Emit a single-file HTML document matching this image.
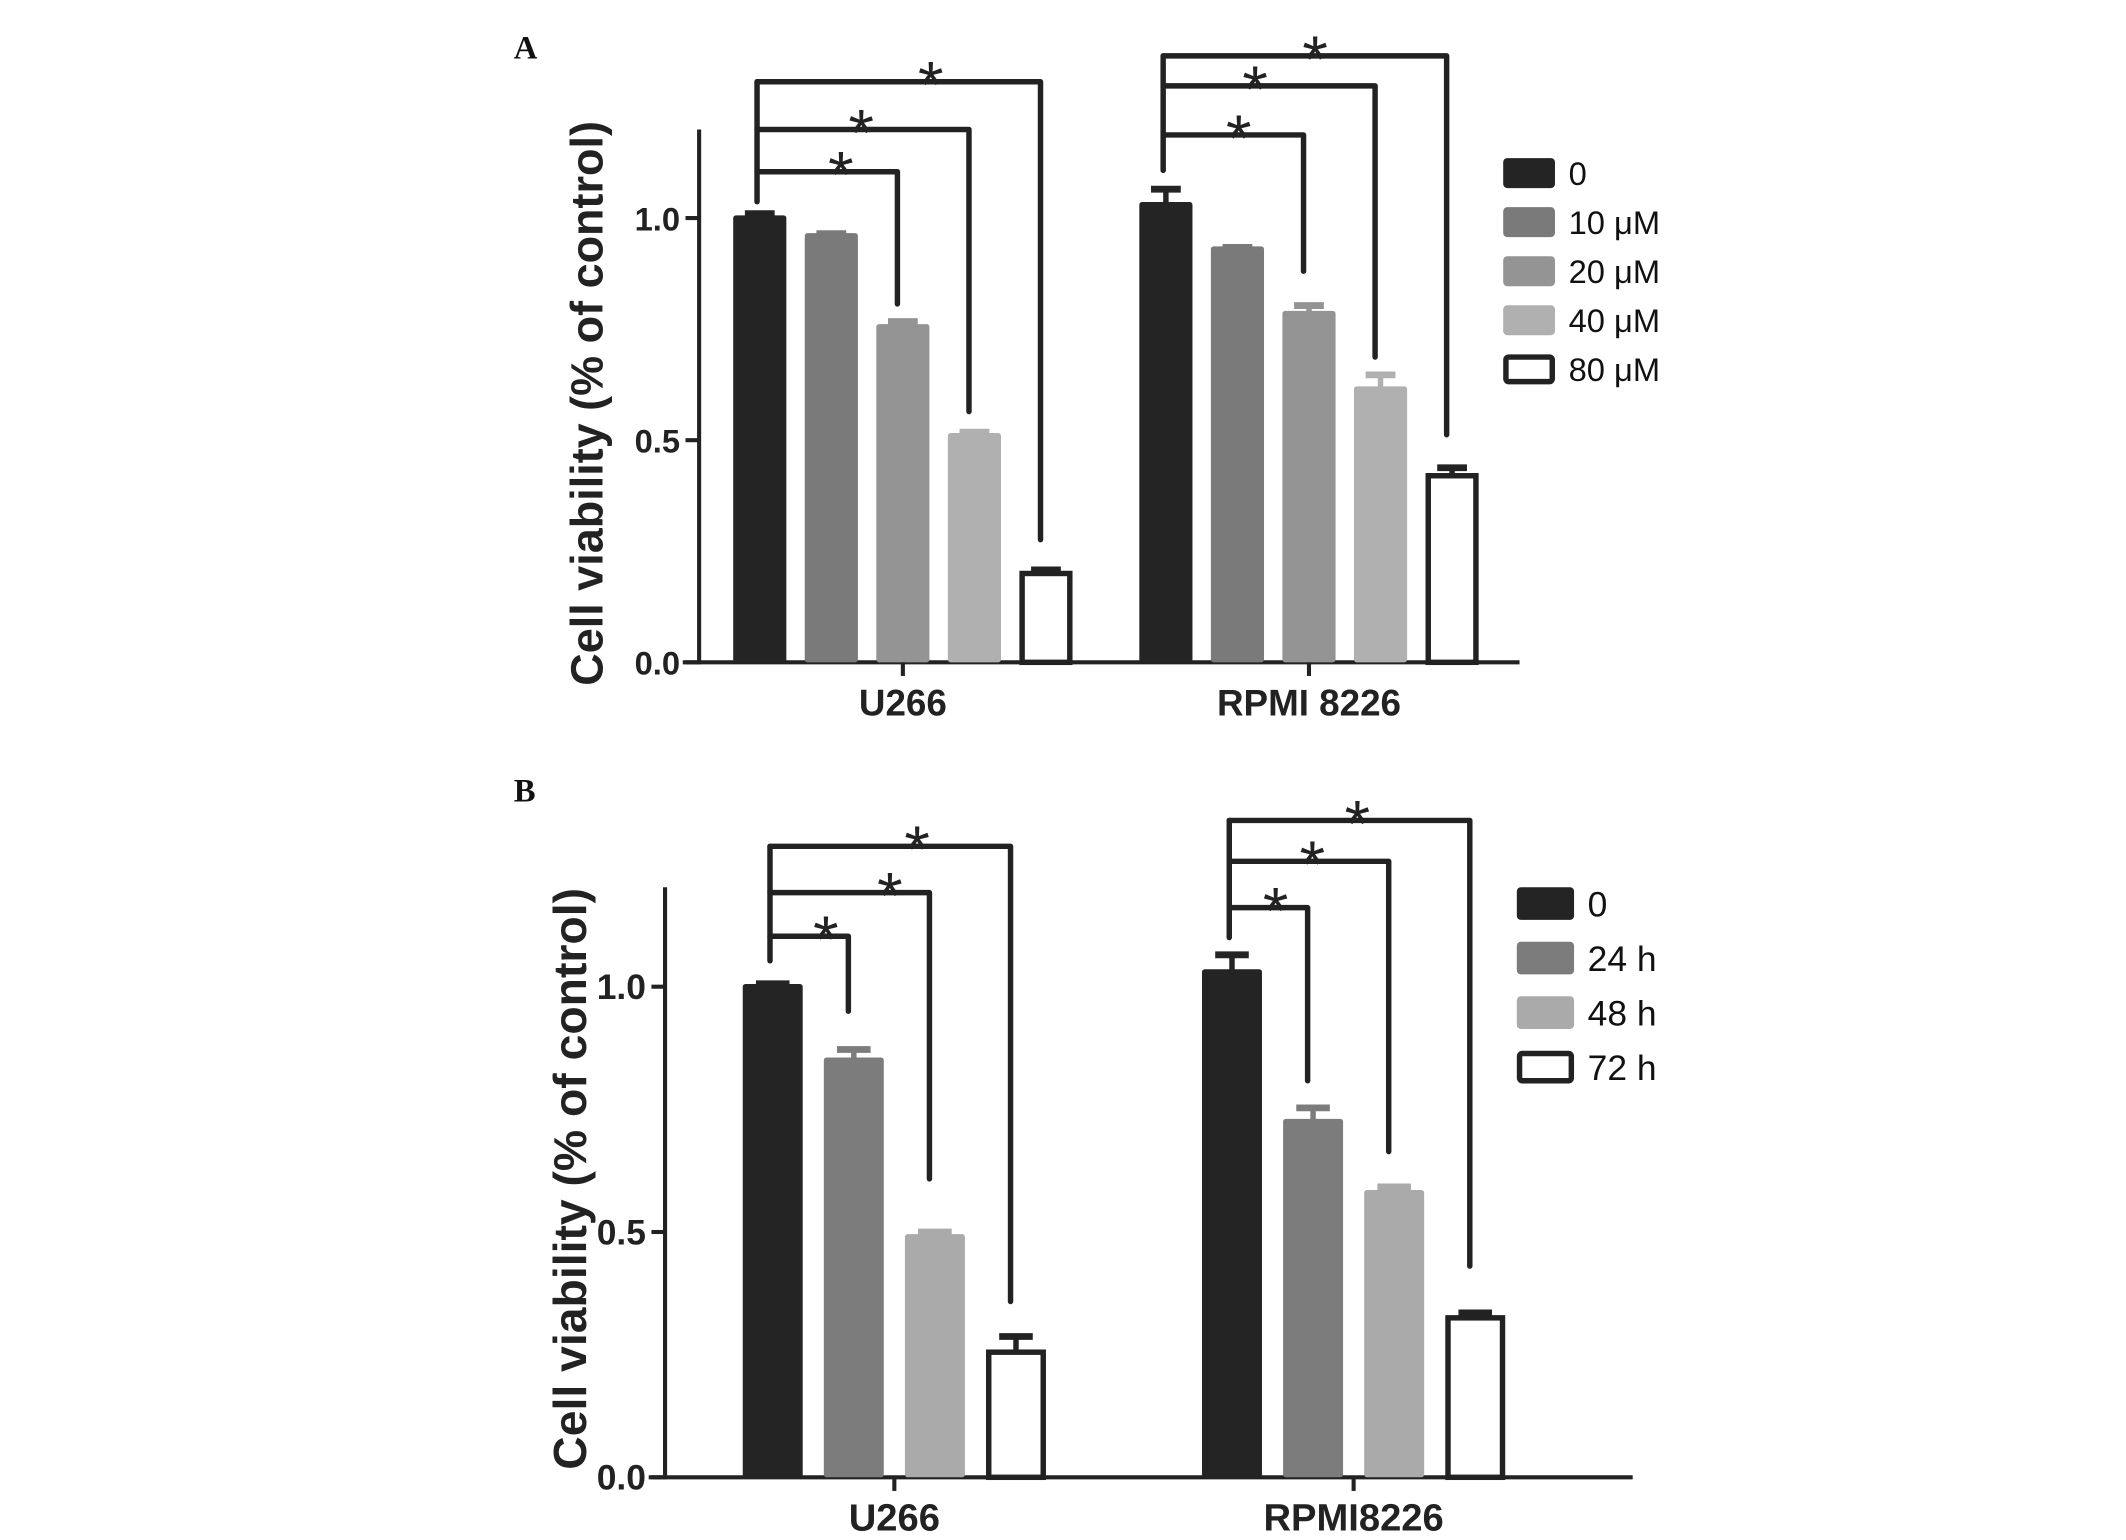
<!DOCTYPE html>
<html><head><meta charset="utf-8"><style>
html,body{margin:0;padding:0;background:#fff;}
svg{display:block;font-family:"Liberation Sans",Arial,sans-serif;}
</style></head><body>
<svg id="fig" width="2126" height="1540" viewBox="0 0 1560 1130" preserveAspectRatio="none" xmlns="http://www.w3.org/2000/svg">
<rect width="1560" height="1130" fill="#fff"/>
</svg>
<script>
// Panel A data
const groupsA = ["U266", "RPMI 8226"];
const seriesA = ["0", "10 μM", "20 μM", "40 μM", "80 μM"];
const valuesA_U266 = [1.0, 0.96, 0.755, 0.51, 0.2];
const errorsA_U266 = [0.01, 0.005, 0.012, 0.008, 0.008];
const valuesA_RPMI = [1.03, 0.93, 0.785, 0.615, 0.42];
const errorsA_RPMI = [0.035, 0.004, 0.018, 0.032, 0.018];
// Panel B data
const groupsB = ["U266", "RPMI8226"];
const seriesB = ["0", "24 h", "48 h", "72 h"];
const valuesB_U266 = [1.0, 0.85, 0.49, 0.255];
const errorsB_U266 = [0.006, 0.022, 0.01, 0.032];
const valuesB_RPMI = [1.03, 0.725, 0.58, 0.325];
const errorsB_RPMI = [0.035, 0.028, 0.012, 0.01];
const yTicks = [0.0, 0.5, 1.0];
const yTickLabels = ["0.0", "0.5", "1.0"];

const NS = "http://www.w3.org/2000/svg";
const svg = document.getElementById("fig");
function el(tag, attrs, parent) {
  const e = document.createElementNS(NS, tag);
  for (const k in attrs) e.setAttribute(k, attrs[k]);
  (parent || svg).appendChild(e);
  return e;
}
function txt(s, attrs, parent) { const t = el("text", attrs, parent); t.textContent = s; return t; }

function panel(cfg) {
  const g = el("g", {});
  
  
  const y = v => cfg.y0 - v * cfg.unit;
  const L = txt(cfg.letter, {x: cfg.letterX, y: cfg.letterY, "font-family": "Liberation Serif, serif", "font-weight": "bold", "font-size": 24, fill: "#111"}, g);
  
  
  const ya = el("line", {x1: cfg.ax, y1: cfg.yTop, x2: cfg.ax, y2: cfg.y0 + 1.5, stroke: "#222", "stroke-width": 3}, g);
  
  
  const xa = el("line", {x1: cfg.ax - 12, y1: cfg.y0, x2: cfg.xEnd, y2: cfg.y0, stroke: "#222", "stroke-width": 3}, g);
  
  
  yTicks.forEach((v, i) => {
    const tk = el("line", {x1: cfg.ax - 10, y1: y(v), x2: cfg.ax, y2: y(v), stroke: "#222", "stroke-width": 3}, g);
    
    
    const tl = txt(yTickLabels[i], {x: cfg.ax - 14, y: y(v) + 9, "text-anchor": "end", "font-size": cfg.tickFs, "font-weight": "bold", fill: "#222"}, g);
    
    
  });
  const yt = txt("Cell viability (% of control)", {x: 0, y: 0, transform: `translate(${cfg.titleX},${cfg.titleY}) rotate(-90)`, "text-anchor": "middle", "font-size": cfg.titleFs, "font-weight": "bold", fill: "#222"}, g);
  
  
  cfg.groups.forEach((gname, gi) => {
    const vals = cfg.values[gi], errs = cfg.errors[gi];
    const centers = [];
    vals.forEach((v, si) => {
      const x0 = cfg.barX[gi] + si * cfg.step;
      const cx = x0 + cfg.bw / 2;
      centers.push(cx);
      const white = si === vals.length - 1;
      const top = y(v);
      const eb = el("line", {x1: cx, y1: top, x2: cx, y2: y(v + errs[si]), stroke: white ? "#222" : cfg.colors[si], "stroke-width": 4}, g);
      
      
      const cap = el("line", {x1: cx - cfg.bw * 0.28, y1: y(v + errs[si]), x2: cx + cfg.bw * 0.28, y2: y(v + errs[si]), stroke: white ? "#222" : cfg.colors[si], "stroke-width": 5}, g);
      
      
      const r = white
        ? el("rect", {x: x0 + 2, y: top, width: cfg.bw - 4, height: cfg.y0 - top, fill: "#fff", stroke: "#222", "stroke-width": 4}, g)
        : el("rect", {x: x0, y: top - 2, width: cfg.bw, height: cfg.y0 - top + 2, fill: cfg.colors[si], rx: 2}, g);
      
      
    });
    const gc = (centers[0] + centers[centers.length - 1]) / 2;
    const tk = el("line", {x1: gc, y1: cfg.y0, x2: gc, y2: cfg.y0 + 10, stroke: "#222", "stroke-width": 3}, g);
    
    
    const xl = txt(gname, {x: gc, y: cfg.y0 + 39, "text-anchor": "middle", "font-size": cfg.xFs, "font-weight": "bold", fill: "#222"}, g);
    
    
    const br = cfg.brackets[gi];
    const lx = centers[0] - 2;
    const bg = el("g", {fill: "none", stroke: "#222", "stroke-width": 4, "stroke-linecap": "round", "stroke-linejoin": "round"}, g);
    
    
    el("line", {x1: lx, y1: br.levels[br.levels.length - 1], x2: lx, y2: br.leftBottom}, bg);
    br.levels.forEach((ly, k) => {
      const tx = centers[k + 2 - (cfg.skipFirst ? 1 : 0)] - 4;
      el("polyline", {points: `${lx},${ly} ${tx},${ly} ${tx},${br.bottoms[k]}`}, bg);
      const st = txt("*", {x: br.stars[k], y: ly + 19, "text-anchor": "middle", "font-size": 48, "stroke": "none", fill: "#222"}, bg);
      
      
    });
  });
  const lg = el("g", {}, g);
  
  
  cfg.series.forEach((s, si) => {
    const ry = cfg.legY + si * cfg.legStep;
    const white = si === cfg.series.length - 1;
    const sw = white
      ? el("rect", {x: cfg.legX + 2, y: ry - cfg.legH / 2 + 2, width: cfg.legW - 4, height: cfg.legH - 4, fill: "#fff", stroke: "#222", "stroke-width": 4, rx: 2}, lg)
      : el("rect", {x: cfg.legX, y: ry - cfg.legH / 2, width: cfg.legW, height: cfg.legH, fill: cfg.colors[si], rx: 3}, lg);
    
    
    const lt = txt(s, {x: cfg.legX + cfg.legW + 10, y: ry + cfg.legFs * 0.36, "font-size": cfg.legFs, fill: "#111"}, lg);
    
    
  });
}

panel({
  name: "panel-a", letter: "A", letterX: 377, letterY: 43,
  ax: 513, yTop: 95, y0: 486, unit: 326, xEnd: 1115,
  tickFs: 24, xFs: 27, titleFs: 33, titleX: 442, titleY: 296,
  groups: groupsA, series: seriesA,
  values: [valuesA_U266, valuesA_RPMI], errors: [errorsA_U266, errorsA_RPMI],
  colors: ["#242424", "#7a7a7a", "#949494", "#b0b0b0", "#fff"],
  barX: [538, 836], step: 52.5, bw: 39,
  brackets: [
    {levels: [126, 95, 60], bottoms: [223, 302, 396], leftBottom: 148, stars: [617, 632, 683]},
    {levels: [99, 63, 41], bottoms: [199, 262, 319], leftBottom: 125, stars: [909, 921, 965]}
  ],
  legX: 1103, legY: 127, legStep: 36, legW: 38, legH: 22, legFs: 24
});

panel({
  name: "panel-b", letter: "B", letterX: 377, letterY: 588,
  ax: 488, yTop: 651, y0: 1084, unit: 360, xEnd: 1198,
  tickFs: 26, xFs: 28, titleFs: 34, titleX: 430, titleY: 865,
  groups: groupsB, series: seriesB, skipFirst: true,
  values: [valuesB_U266, valuesB_RPMI], errors: [errorsB_U266, errorsB_RPMI],
  colors: ["#242424", "#7c7c7c", "#aaaaaa", "#fff"],
  barX: [545, 882], step: 59.5, bw: 44,
  brackets: [
    {levels: [687, 655, 621], bottoms: [742, 865, 955], leftBottom: 705, stars: [606, 653, 673]},
    {levels: [666, 632, 602], bottoms: [793, 845, 929], leftBottom: 688, stars: [936, 963, 996]}
  ],
  legX: 1113, legY: 663, legStep: 40, legW: 42, legH: 24, legFs: 26
});
</script>
</body></html>
